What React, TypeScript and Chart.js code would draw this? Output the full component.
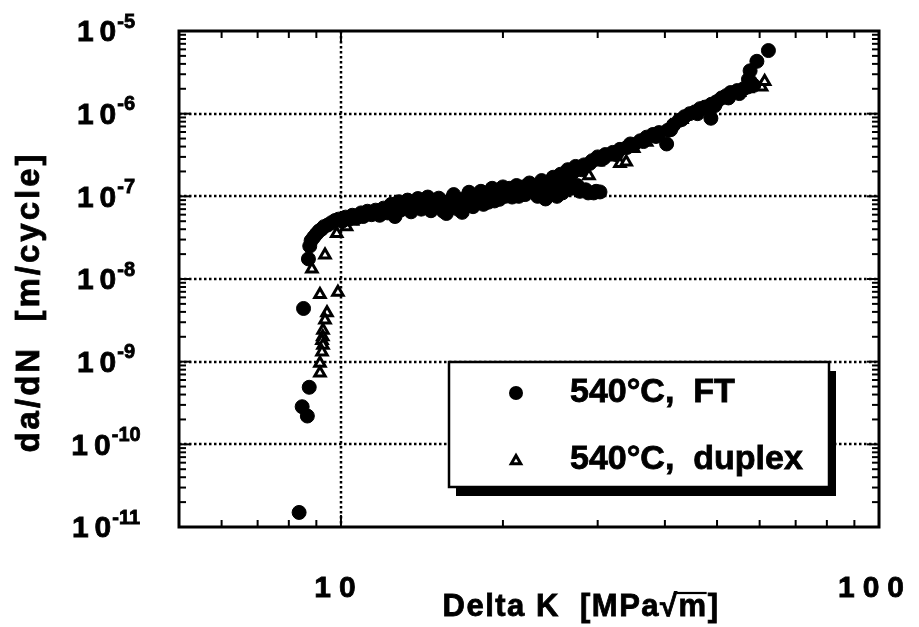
import React, { useEffect, useRef } from "react";
import { Chart, registerables } from "chart.js";
Chart.register(...registerables);

// ---- data ----
const ftK = [
  8.36, 8.47, 8.66, 8.73, 8.52,
  8.70, 8.75, 8.80, 8.90, 9.00, 9.10, 9.20, 9.30, 9.45, 9.60, 9.75, 9.90,
  10.05, 10.2, 10.35, 10.5, 10.7, 10.9, 11.0, 11.2, 11.4, 11.6, 11.8, 12.0,
  12.2, 12.4, 12.6, 12.8, 12.9, 13.1, 13.3, 13.5, 13.7, 13.9, 14.1, 14.3,
  14.5, 14.7, 14.9, 15.2, 15.5, 15.7, 15.9, 16.2, 16.5, 16.8, 17.0, 17.3,
  17.6, 17.9, 18.2, 18.5, 18.8, 19.1, 19.4, 19.7, 20.0, 20.4, 20.8, 21.2,
  21.6, 22.0, 22.4, 22.8, 23.2, 23.6, 24.0, 24.4, 24.8, 25.2, 25.6, 26.0,
  26.4, 26.8, 27.3, 27.8, 28.3, 28.8, 29.3, 29.8, 30.3, 30.0, 31.0, 32.0,
  33.0, 34.0, 35.0, 36.0, 37.0, 38.0, 39.0, 40.3, 40.5, 41.5, 42.5, 43.5,
  44.5, 45.5, 46.5, 47.5, 48.7, 48.8, 50.0, 51.0, 52.0, 53.0, 54.5, 56.0,
  57.6, 59.3, 62.3,
  10.1, 10.6, 11.1, 11.5, 11.9, 12.3, 12.7, 13.0, 13.4, 13.8, 14.2, 14.6,
  15.0, 15.4, 15.8, 16.1, 16.6, 17.1, 17.5, 18.0, 18.4, 18.9, 19.3, 19.8,
  20.2, 20.6, 21.0, 21.4, 21.8, 22.2, 22.6, 23.0, 23.4, 23.8, 24.2, 24.6,
  25.0, 25.4, 25.8, 26.2, 26.6, 27.0, 27.5, 28.0, 28.5, 29.0, 29.5, 30.5,
  30.8, 32.5, 34.5, 36.5, 38.5, 41.0, 43.0, 46.0, 49.5, 52.5, 55.0, 57.0,
  58.5, 57.2,
];
const ftY = [
  1.5e-11, 2.85e-10, 2.2e-10, 4.9e-10, 4.4e-9,
  1.75e-8, 2.5e-8, 2.9e-8, 3.2e-8, 3.5e-8, 3.8e-8, 4.0e-8, 4.3e-8, 4.5e-8, 4.8e-8, 5.1e-8, 5.3e-8,
  5.0e-8, 5.6e-8, 5.3e-8, 5.9e-8, 5.5e-8, 6.3e-8, 5.7e-8, 6.6e-8, 6.0e-8, 6.8e-8, 5.9e-8, 7.2e-8,
  6.3e-8, 8.0e-8, 5.7e-8, 8.6e-8, 6.8e-8, 7.6e-8, 9.0e-8, 6.5e-8, 8.3e-8, 9.4e-8, 7.0e-8, 8.8e-8,
  9.8e-8, 6.7e-8, 8.2e-8, 9.5e-8, 6.6e-8, 6.2e-8, 8.7e-8, 1.05e-7, 7.0e-8, 6.4e-8, 9.5e-8, 1.12e-7,
  7.5e-8, 8.8e-8, 1.15e-7, 9.5e-8, 8.5e-8, 1.25e-7, 1.0e-7, 9.2e-8, 1.3e-7, 1.1e-7, 9.8e-8, 1.35e-7,
  1.15e-7, 1.05e-7, 1.45e-7, 1.2e-7, 1.0e-7, 1.55e-7, 9.3e-8, 1.3e-7, 1.7e-7, 1.0e-7, 1.85e-7, 1.2e-7,
  2.1e-7, 1.25e-7, 2.3e-7, 1.15e-7, 2.4e-7, 1.1e-7, 2.7e-7, 1.15e-7, 1.13e-7, 3.0e-7, 3.2e-7, 3.4e-7,
  3.7e-7, 3.9e-7, 4.2e-7, 4.7e-7, 5.2e-7, 5.6e-7, 5.9e-7, 4.3e-7, 6.3e-7, 7.3e-7, 8.3e-7, 9.2e-7,
  1.0e-6, 1.05e-6, 1.15e-6, 1.2e-6, 8.8e-7, 1.3e-6, 1.4e-6, 1.55e-6, 1.65e-6, 1.8e-6, 1.9e-6, 2.0e-6,
  3.3e-6, 4.3e-6, 5.8e-6,
  5.4e-8, 5.7e-8, 6.0e-8, 6.3e-8, 6.5e-8, 6.9e-8, 7.2e-8, 8.0e-8, 7.6e-8, 7.4e-8, 8.0e-8, 7.6e-8,
  9.0e-8, 7.8e-8, 7.2e-8, 9.5e-8, 8.2e-8, 7.6e-8, 1.0e-7, 1.0e-7, 8.0e-8, 1.1e-7, 8.8e-8, 1.15e-7,
  1.0e-7, 1.25e-7, 1.1e-7, 1.0e-7, 1.3e-7, 1.15e-7, 1.35e-7, 1.1e-7, 1.3e-7, 1.2e-7, 1.45e-7, 1.1e-7,
  1.5e-7, 1.35e-7, 1.1e-7, 1.7e-7, 1.5e-7, 1.95e-7, 1.35e-7, 2.1e-7, 1.2e-7, 2.5e-7, 1.1e-7, 2.8e-7,
  2.9e-7, 3.2e-7, 4.3e-7, 4.6e-7, 5.3e-7, 6.4e-7, 8.5e-7, 1.0e-6, 1.25e-6, 1.55e-6, 1.75e-6, 2.1e-6,
  2.2e-6, 2.6e-6,
];

const dxK = [
  9.34, 8.83, 9.14, 9.87, 9.42, 9.34, 9.26, 9.25, 9.22, 9.26, 9.22, 9.14, 9.14,
  9.82, 10.24, 10.5, 11.5, 12.5, 13.5, 14.5, 16.0, 17.5, 19.0, 20.5, 22.0,
  23.5, 25.0, 26.5, 27.5, 28.9, 30.0, 32.0, 33.0, 33.9, 35.0, 37.0, 39.0,
  41.0, 43.0, 45.0, 47.0, 49.0, 51.0, 53.0, 55.0, 57.0, 59.0, 60.5, 61.3,
];
const dxY = [
  1.95e-8, 1.32e-8, 6.5e-9, 6.9e-9, 3.9e-9, 3.2e-9, 2.4e-9, 2.0e-9, 1.8e-9, 1.58e-9, 1.31e-9, 9.6e-10, 7.3e-10,
  3.55e-8, 4.3e-8, 5.0e-8, 5.8e-8, 6.5e-8, 7.5e-8, 8.0e-8, 8.5e-8, 1.0e-7, 1.1e-7, 1.2e-7, 1.3e-7,
  1.45e-7, 1.6e-7, 1.6e-7, 2.0e-7, 1.77e-7, 2.6e-7, 3.0e-7, 2.5e-7, 2.6e-7, 3.8e-7, 4.5e-7, 5.5e-7,
  7.0e-7, 8.5e-7, 1.0e-6, 1.15e-6, 1.3e-6, 1.5e-6, 1.7e-6, 1.8e-6, 2.0e-6, 2.2e-6, 2.1e-6, 2.45e-6,
];

const seriesLabels = ["540°C,  FT", "540°C,  duplex"];
const xTickLabels = ["10", "100"];
const xTickValues = [10, 100];
const yExponents = [-11, -10, -9, -8, -7, -6, -5];
const xMinorTicks = [6, 7, 8, 9, 20, 30, 40, 50, 60, 70, 80, 90];
const xTitle = ["Delta K  [MPa", "√", "m", "]"];
const yTitle = "da/dN  [m/cycle]";

const FONT = '"Liberation Sans", Arial, Helvetica, sans-serif';

function heavyText(ctx: CanvasRenderingContext2D, t: string, x: number, y: number) {
  ctx.fillText(t, x, y);
  ctx.strokeText(t, x, y);
}

function drawSpaced(ctx: CanvasRenderingContext2D, text: string, cx: number, cy: number, gap: number) {
  const ws = [...text].map((c) => ctx.measureText(c).width);
  const total = ws.reduce((a, b) => a + b, 0) + gap * (ws.length - 1);
  let x = cx - total / 2;
  ctx.textAlign = "left";
  ctx.textBaseline = "middle";
  [...text].forEach((c, i) => {
    heavyText(ctx, c, x, cy);
    x += ws[i] + gap;
  });
}

const decor = {
  id: "decor",
  beforeDatasetsDraw(chart: any) {
    const { ctx, chartArea: a, scales } = chart;
    const x = scales.x, y = scales.y;
    ctx.save();
    ctx.strokeStyle = "#000";
    ctx.lineWidth = 2.5;
    ctx.setLineDash([2.5, 2.5]);
    for (let e = -10; e <= -6; e++) {
      const py = Math.round(y.getPixelForValue(Math.pow(10, e)));
      ctx.beginPath();
      ctx.moveTo(a.left, py);
      ctx.lineTo(a.right, py);
      ctx.stroke();
    }
    const px = Math.round(x.getPixelForValue(10));
    ctx.beginPath();
    ctx.moveTo(px, a.top);
    ctx.lineTo(px, a.bottom);
    ctx.stroke();
    ctx.restore();
  },
  afterDatasetsDraw(chart: any) {
    const { ctx, chartArea: a, scales } = chart;
    const x = scales.x, y = scales.y;
    ctx.save();
    ctx.strokeStyle = "#000";
    ctx.fillStyle = "#000";
    // ticks
    ctx.lineWidth = 2;
    const tick = (x1: number, y1: number, x2: number, y2: number) => {
      ctx.beginPath();
      ctx.moveTo(x1, y1);
      ctx.lineTo(x2, y2);
      ctx.stroke();
    };
    xMinorTicks.forEach((v) => {
      const px = x.getPixelForValue(v);
      tick(px, a.bottom, px, a.bottom - 7);
      tick(px, a.top, px, a.top + 7);
    });
    xTickValues.forEach((v) => {
      const px = x.getPixelForValue(v);
      tick(px, a.bottom, px, a.bottom - 12);
      tick(px, a.top, px, a.top + 12);
    });
    for (let e = -11; e <= -5; e++) {
      const py = y.getPixelForValue(Math.pow(10, e));
      tick(a.left, py, a.left + 12, py);
      tick(a.right, py, a.right - 12, py);
      if (e < -5) {
        for (let m = 2; m <= 9; m++) {
          const pm = y.getPixelForValue(m * Math.pow(10, e));
          tick(a.left, pm, a.left + 7, pm);
          tick(a.right, pm, a.right - 7, pm);
        }
      }
    }
    // frame
    ctx.lineWidth = 3;
    ctx.strokeRect(a.left, a.top, a.right - a.left, a.bottom - a.top);

    // legend box with shadow
    const bx = 449, by = 362, bw = 380, bh = 125;
    ctx.fillStyle = "#000";
    ctx.fillRect(bx + 7, by + 9, bw, bh);
    ctx.fillStyle = "#fff";
    ctx.fillRect(bx, by, bw, bh);
    ctx.lineWidth = 2.5;
    ctx.strokeRect(bx, by, bw, bh);
    // legend markers
    ctx.fillStyle = "#000";
    ctx.beginPath();
    ctx.arc(516, 393, 7, 0, Math.PI * 2);
    ctx.fill();
    const tr = 5.5, tx = 516, ty = 461;
    ctx.beginPath();
    ctx.moveTo(tx, ty - tr);
    ctx.lineTo(tx + tr * Math.sin(Math.PI / 3), ty + tr / 2);
    ctx.lineTo(tx - tr * Math.sin(Math.PI / 3), ty + tr / 2);
    ctx.closePath();
    ctx.fillStyle = "#fff";
    ctx.fill();
    ctx.lineWidth = 3;
    ctx.lineJoin = "miter";
    ctx.stroke();
    ctx.fillStyle = "#000";
    ctx.lineWidth = 0.8;
    ctx.font = `bold 34px ${FONT}`;
    ctx.textAlign = "left";
    ctx.textBaseline = "middle";
    heavyText(ctx, seriesLabels[0], 570, 393);
    heavyText(ctx, seriesLabels[1], 570, 460);

    // x tick labels
    ctx.font = `bold 30px ${FONT}`;
    xTickLabels.forEach((t, i) => {
      const px = x.getPixelForValue(xTickValues[i]);
      drawSpaced(ctx, t, px - (i === 0 ? 6 : 8), 589, 8);
    });
    // y tick labels
    yExponents.forEach((e) => {
      const py = y.getPixelForValue(Math.pow(10, e));
      ctx.font = `bold 30px ${FONT}`;
      const w1 = ctx.measureText("1").width, w0 = ctx.measureText("0").width;
      const gap = 6;
      const base = w1 + gap + w0;
      ctx.font = `bold 20px ${FONT}`;
      const sup = String(e);
      const ws = ctx.measureText(sup).width;
      const total = base + 1 + ws;
      const left = 106 - total / 2;
      ctx.font = `bold 30px ${FONT}`;
      ctx.textAlign = "left";
      ctx.textBaseline = "middle";
      heavyText(ctx, "1", left, py + 2);
      heavyText(ctx, "0", left + w1 + gap, py + 2);
      ctx.font = `bold 20px ${FONT}`;
      heavyText(ctx, sup, left + base + 1, py - 9);
    });

    // x title
    ctx.font = `bold 31px ${FONT}`;
    (ctx as any).letterSpacing = "1.5px";
    const parts = xTitle;
    const widths = parts.map((p) => ctx.measureText(p).width);
    const tw = widths.reduce((s, v) => s + v, 0);
    let cx = 581 - tw / 2;
    ctx.textAlign = "left";
    ctx.textBaseline = "middle";
    parts.forEach((p, i) => {
      ctx.lineWidth = 0.8;
      heavyText(ctx, p, cx, 607);
      if (i === 2) {
        ctx.lineWidth = 2.2;
        ctx.beginPath();
        ctx.moveTo(cx - 2, 593);
        ctx.lineTo(cx + widths[i] - 1, 593);
        ctx.stroke();
      }
      cx += widths[i];
    });

    // y title
    ctx.save();
    ctx.translate(30, 302);
    ctx.rotate(-Math.PI / 2);
    ctx.font = `bold 33px ${FONT}`;
    (ctx as any).letterSpacing = "3px";
    ctx.textAlign = "center";
    ctx.textBaseline = "middle";
    ctx.lineWidth = 0.8;
    heavyText(ctx, yTitle, 0, 0);
    ctx.restore();

    (ctx as any).letterSpacing = "0px";
    ctx.restore();
  },
};

export default function App() {
  const ref = useRef<HTMLCanvasElement | null>(null);
  useEffect(() => {
    if (!ref.current) return;
    const chart = new Chart(ref.current, {
      type: "scatter",
      data: {
        datasets: [
          {
            label: seriesLabels[0],
            data: ftK.map((k, i) => ({ x: k, y: ftY[i] })),
            pointStyle: "circle",
            pointRadius: 7,
            pointBackgroundColor: "#000",
            pointBorderColor: "#000",
            pointBorderWidth: 1,
            showLine: false,
          },
          {
            label: seriesLabels[1],
            data: dxK.map((k, i) => ({ x: k, y: dxY[i] })),
            pointStyle: "triangle",
            pointRadius: 6,
            pointBackgroundColor: "#fff",
            pointBorderColor: "#000",
            pointBorderWidth: 3,
            showLine: false,
          },
        ],
      },
      options: {
        animation: false,
        responsive: false,
        events: [],
        layout: { padding: { left: 179, right: 40, top: 31, bottom: 100 } },
        plugins: { legend: { display: false }, tooltip: { enabled: false } },
        scales: {
          x: { type: "logarithmic", min: 5, max: 100, display: false },
          y: { type: "logarithmic", min: 1e-11, max: 1e-5, display: false },
        },
      },
      plugins: [decor],
    });
    return () => chart.destroy();
  }, []);
  return (
    <div style={{ position: "fixed", left: 0, top: 0, width: 919, height: 627, background: "#fff" }}>
      <canvas ref={ref} width={919} height={627} style={{ display: "block" }} />
    </div>
  );
}
